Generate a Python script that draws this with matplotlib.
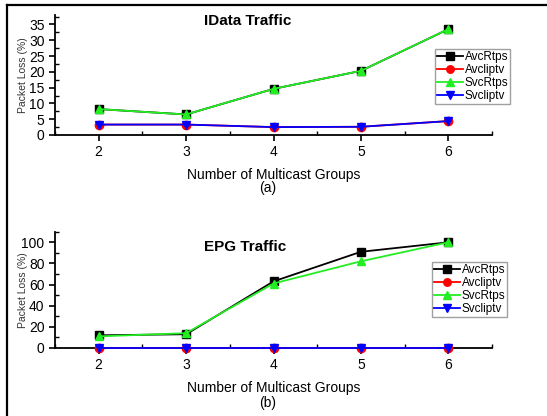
import matplotlib
matplotlib.use("Agg")
import matplotlib.pyplot as plt
from matplotlib.lines import Line2D
from matplotlib.ticker import MultipleLocator

plt.rcParams["font.family"] = ["Liberation Sans", "DejaVu Sans"]

groups = [2, 3, 4, 5, 6]
series_names = ["AvcRtps", "Avcliptv", "SvcRtps", "Svcliptv"]

# (a) IData traffic
idata_avc_rtps = [8.2, 6.5, 14.6, 20.3, 33.5]
idata_avc_iptv = [3.3, 3.3, 2.5, 2.6, 4.4]
idata_svc_rtps = [8.2, 6.5, 14.6, 20.3, 33.5]
idata_svc_iptv = [3.3, 3.3, 2.5, 2.6, 4.4]

# (b) EPG traffic
epg_avc_rtps = [12, 13, 63, 91, 100]
epg_avc_iptv = [0, 0, 0, 0, 0]
epg_svc_rtps = [11, 14, 61, 82, 100]
epg_svc_iptv = [0, 0, 0, 0, 0]

colors = ["black", "red", "#22ee22", "blue"]
markers = ["s", "o", "^", "v"]

fig = plt.figure(figsize=(5.47, 4.16), dpi=100)
ax_a = fig.add_axes([0.1005, 0.6755, 0.799, 0.2885])
ax_b = fig.add_axes([0.1005, 0.1635, 0.799, 0.2795])


def draw_panel(ax, data, ylim, ystep, title, title_xy, tag, tag_y, legend_xy):
    for name, vals, c, m in zip(series_names, data, colors, markers):
        ax.plot(groups, vals, color=c, marker=m, markersize=6, linewidth=1.3,
                label=name, clip_on=False, zorder=3)
    ax.set_xlim(1.5, 6.5)
    ax.set_ylim(*ylim)
    ax.set_xticks(groups)
    ax.yaxis.set_major_locator(MultipleLocator(ystep))
    ax.yaxis.set_minor_locator(MultipleLocator(ystep / 2))
    ax.xaxis.set_minor_locator(MultipleLocator(0.5))
    for s in ["top", "right"]:
        ax.spines[s].set_visible(False)
    for s in ["left", "bottom"]:
        ax.spines[s].set_linewidth(1.3)
    ax.tick_params(which="major", direction="out", length=4, width=1.2, labelsize=10)
    ax.tick_params(which="minor", direction="in", length=3, width=1.0)
    ax.set_ylabel("Packet Loss (%)", fontsize=7.5, color="#333333")
    ax.yaxis.set_label_coords(-0.062, 0.5)
    ax.set_xlabel("Number of Multicast Groups", fontsize=10, labelpad=6)
    fig.text(title_xy[0] / 547, 1 - title_xy[1] / 416, title, ha="center",
             va="center", fontsize=11, fontweight="bold")
    fig.text(268 / 547, 1 - tag_y / 416, tag, ha="center", va="center", fontsize=10)
    ax.legend(loc="upper left", bbox_to_anchor=legend_xy, bbox_transform=fig.transFigure,
              fontsize=8.5, frameon=True, fancybox=False, edgecolor="#888888",
              borderpad=0.15, labelspacing=0.1, handlelength=2.2, handletextpad=0.15,
              borderaxespad=0, markerscale=0.9)


draw_panel(ax_a, [idata_avc_rtps, idata_avc_iptv, idata_svc_rtps, idata_svc_iptv],
           (0, 38), 5, "IData Traffic", (248, 21), "(a)", 188, (435 / 547, 1 - 49 / 416))
draw_panel(ax_b, [epg_avc_rtps, epg_avc_iptv, epg_svc_rtps, epg_svc_iptv],
           (0, 110), 20, "EPG Traffic", (245, 247), "(b)", 403, (432 / 547, 1 - 262 / 416))

# outer frame lines (top and left)
fig.add_artist(Line2D([7 / 547, 7 / 547], [0, 1 - 5 / 416], color="black", linewidth=1.6))
fig.add_artist(Line2D([7 / 547, 1], [1 - 5 / 416, 1 - 5 / 416], color="black", linewidth=1.6))

fig.savefig("out.png", dpi=100)
